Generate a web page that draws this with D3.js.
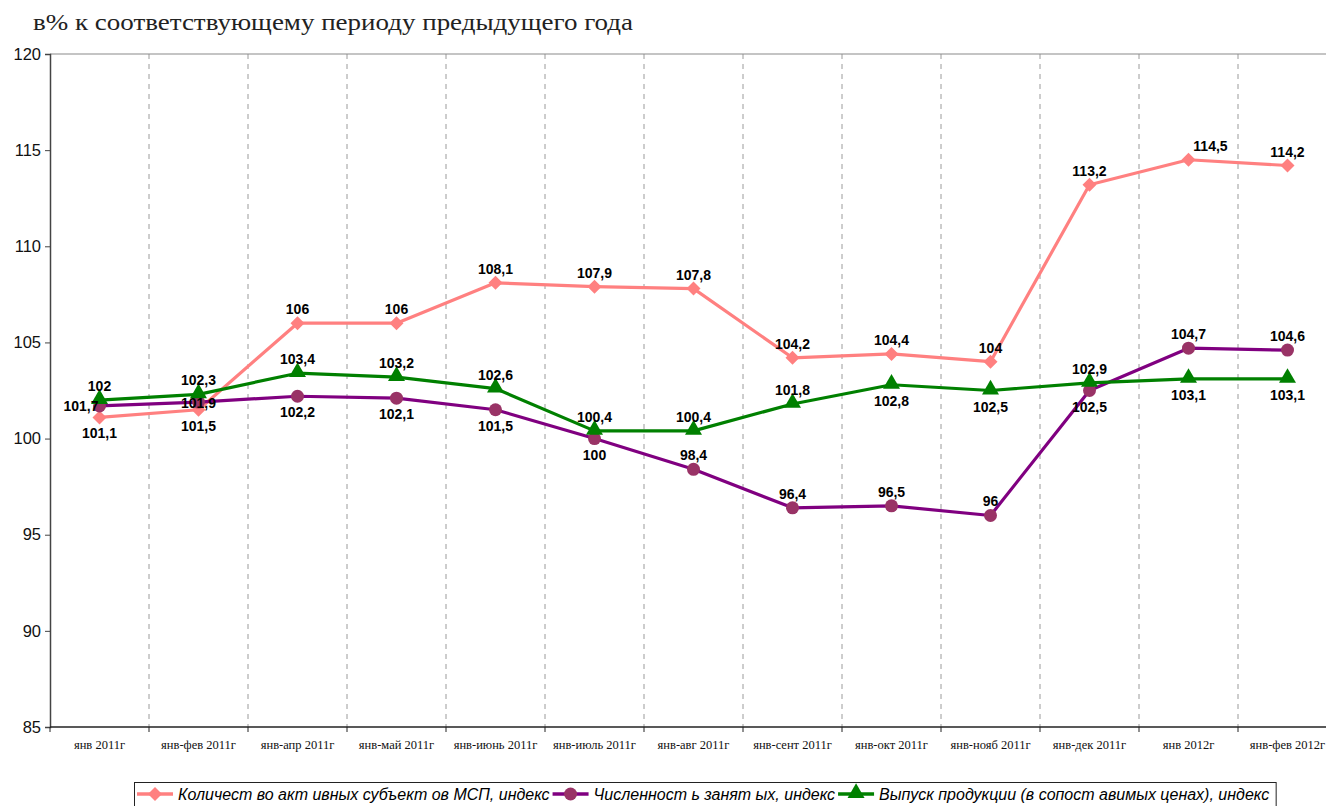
<!DOCTYPE html>
<html>
<head>
<meta charset="utf-8">
<script src="https://cdn.jsdelivr.net/npm/d3@7"></script>
<style>
  html, body { margin: 0; padding: 0; background: #fff; }
  svg { display: block; }
</style>
</head>
<body>
<svg id="chart" width="1326" height="806"></svg>
<script>
// Periods (cumulative since January)
const categories = [
  "янв 2011г", "янв-фев 2011г", "янв-апр 2011г", "янв-май 2011г", "янв-июнь 2011г",
  "янв-июль 2011г", "янв-авг 2011г", "янв-сент 2011г", "янв-окт 2011г", "янв-нояб 2011г",
  "янв-дек 2011г", "янв 2012г", "янв-фев 2012г"
];

// Index values, % of the same period of the previous year
const activeSmeCount = [101.1, 101.5, 106, 106, 108.1, 107.9, 107.8, 104.2, 104.4, 104, 113.2, 114.5, 114.2];
const employment     = [101.7, 101.9, 102.2, 102.1, 101.5, 100, 98.4, 96.4, 96.5, 96, 102.5, 104.7, 104.6];
const output         = [102, 102.3, 103.4, 103.2, 102.6, 100.4, 100.4, 101.8, 102.8, 102.5, 102.9, 103.1, 103.1];

const seriesNames = [
  "Количест во акт ивных субъект ов МСП, индекс",
  "Численност ь занят ых, индекс",
  "Выпуск продукции (в сопост авимых ценах), индекс"
];

const yTicks = [85, 90, 95, 100, 105, 110, 115, 120];

// Where each value label sits relative to its point: a = above, b = below, l = left, c = on the point
const smeLabelSide    = ["b","b","a","a","a","a","a","a","a","a","a","ar","a"];
const employLabelSide = ["l","c","b","b","b","b","a","a","a","a","b","a","a"];
const outputLabelSide = ["a","a","a","a","a","a","a","a","b","b","a","b","b"];

const svg = d3.select("#chart");
const plot = { left: 50, right: 1337, top: 54, bottom: 727 };

const x = d3.scaleBand().domain(categories).range([plot.left, plot.right]).padding(0);
const y = d3.scaleLinear().domain([85, 120]).range([plot.bottom, plot.top]);
const cx = c => x(c) + x.bandwidth() / 2;

// Title
svg.append("text")
  .attr("x", 33).attr("y", 30)
  .attr("font-family", "'Liberation Serif', 'Times New Roman', serif")
  .attr("font-size", 24)
  .attr("fill", "#222")
  .attr("textLength", 600)
  .attr("lengthAdjust", "spacingAndGlyphs")
  .text("в% к соответствующему периоду предыдущего года");

// Dashed vertical separators between periods
const bounds = categories.slice(1).map(c => x(c));
svg.append("g").selectAll("line").data(bounds).join("line")
  .attr("x1", d => d).attr("x2", d => d)
  .attr("y1", plot.top).attr("y2", plot.bottom)
  .attr("stroke", "#9a9a9a").attr("stroke-width", 1)
  .attr("stroke-dasharray", "5,5");

// Top border
svg.append("line")
  .attr("x1", plot.left).attr("x2", plot.right)
  .attr("y1", plot.top).attr("y2", plot.top)
  .attr("stroke", "#8a8a8a").attr("stroke-width", 1.2);

// Y axis
const yAxis = d3.axisLeft(y).tickValues(yTicks).tickSize(5).tickPadding(4).tickFormat(d3.format("d"));
const gy = svg.append("g").attr("transform", `translate(${plot.left},0)`).call(yAxis);
gy.select(".domain").attr("stroke", "#444").attr("stroke-width", 1.5);
gy.selectAll(".tick line").attr("stroke", "#444");
gy.selectAll(".tick text")
  .attr("font-family", "'Liberation Sans', Arial, sans-serif")
  .attr("font-size", 16.5).attr("fill", "#111");

// X axis
const gx = svg.append("g").attr("transform", `translate(0,${plot.bottom})`);
gx.append("line")
  .attr("x1", plot.left).attr("x2", plot.right)
  .attr("stroke", "#222").attr("stroke-width", 1.5);
gx.selectAll("line.tk").data(bounds.concat([plot.left])).join("line")
  .attr("class", "tk")
  .attr("x1", d => d).attr("x2", d => d)
  .attr("y1", 0).attr("y2", 5)
  .attr("stroke", "#222");
gx.selectAll("text").data(categories).join("text")
  .attr("x", d => cx(d)).attr("y", 22)
  .attr("text-anchor", "middle")
  .attr("font-family", "'Liberation Serif', 'Times New Roman', serif")
  .attr("font-size", 12.5).attr("fill", "#111")
  .text(d => d);

// Marker shapes
const triangle = d3.symbol().type(d3.symbolTriangle).size(125);
const diamondPath = "M0,-7L7,0L0,7L-7,0Z";

const series = [
  { values: activeSmeCount, line: "#ff8080", fill: "#ff8080", shape: "diamond", sides: smeLabelSide },
  { values: employment, line: "#800080", fill: "#993366", shape: "circle", sides: employLabelSide },
  { values: output, line: "#008000", fill: "#008000", shape: "triangle", sides: outputLabelSide }
];

const lineGen = d3.line().x((d, i) => cx(categories[i])).y(d => y(d));

function drawMarker(g, shape, fill, px, py) {
  if (shape === "circle") {
    g.append("circle").attr("cx", px).attr("cy", py).attr("r", 6.5).attr("fill", fill);
  } else if (shape === "diamond") {
    g.append("path").attr("d", diamondPath).attr("fill", fill)
      .attr("transform", `translate(${px},${py})`);
  } else {
    g.append("path").attr("d", triangle()).attr("fill", fill)
      .attr("transform", `translate(${px},${py - 1})`);
  }
}

series.forEach(s => {
  svg.append("path").datum(s.values)
    .attr("d", lineGen).attr("fill", "none")
    .attr("stroke", s.line).attr("stroke-width", 3.2)
    .attr("stroke-linejoin", "round");
});

series.forEach(s => {
  const g = svg.append("g");
  s.values.forEach((v, i) => drawMarker(g, s.shape, s.fill, cx(categories[i]), y(v)));
});

// Value labels
const fmt = v => String(v).replace(".", ",");
series.forEach(s => {
  const g = svg.append("g")
    .attr("font-family", "'Liberation Sans', Arial, sans-serif")
    .attr("font-size", 14).attr("font-weight", "bold").attr("fill", "#000");
  s.values.forEach((v, i) => {
    const px = cx(categories[i]), py = y(v);
    const side = s.sides[i];
    let tx = px, ty = py, anchor = "middle";
    if (side === "a") ty = py - 9;
    else if (side === "ar") { ty = py - 9; tx = px + 22; }
    else if (side === "b") ty = py + 21;
    else if (side === "l") { tx = px - 1; ty = py + 5; anchor = "end"; }
    else if (side === "c") ty = py + 6;
    g.append("text").attr("x", tx).attr("y", ty).attr("text-anchor", anchor).text(fmt(v));
  });
});

// Legend
const legend = svg.append("g");
const legBox = legend.append("rect")
  .attr("x", 134.5).attr("y", 782.5).attr("height", 30)
  .attr("fill", "#fff").attr("stroke", "#222").attr("stroke-width", 1);
let lx = 137;
series.forEach((s, i) => {
  legend.append("line")
    .attr("x1", lx).attr("x2", lx + 36).attr("y1", 794).attr("y2", 794)
    .attr("stroke", s.line).attr("stroke-width", 3.5);
  drawMarker(legend, s.shape, s.fill, lx + 18, 794);
  const t = legend.append("text")
    .attr("x", lx + 41).attr("y", 800)
    .attr("font-family", "'Liberation Sans', Arial, sans-serif")
    .attr("font-size", 16).attr("font-style", "italic").attr("fill", "#000")
    .text(seriesNames[i]);
  lx += 41 + t.node().getComputedTextLength() + 3;
});
legBox.attr("width", lx - 134.5 + 4);
</script>
</body>
</html>
